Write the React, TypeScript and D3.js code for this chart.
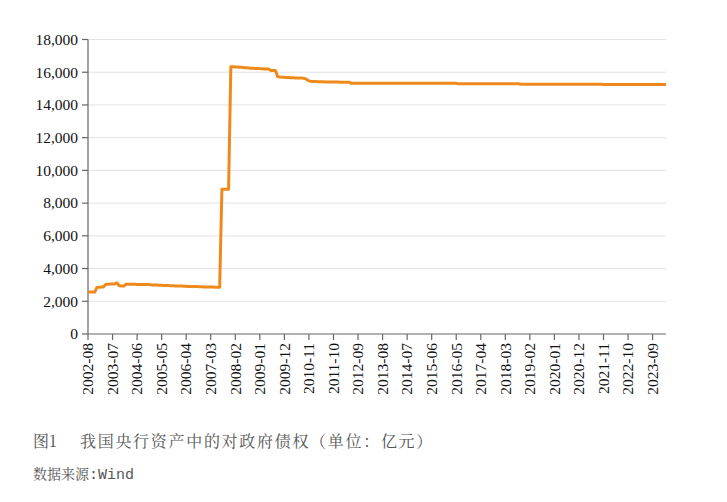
import { useMemo } from "react";
import * as d3 from "d3";

const WIDTH = 727;
const HEIGHT = 502;
const MARGIN = { top: 39.5, right: 61, bottom: 168, left: 88 };

// monthly categories, 2002-08 .. 2024-03
const START_MONTH = new Date(2002, 7, 1);
const END_MONTH = new Date(2024, 3, 1);

// 亿元
const VALUES = [
  // 2002-08 .. 2002-12
  2560, 2560, 2560, 2560, 2850,
  // 2003
  2860, 2870, 2880, 3040, 3040, 3050, 3050, 3060, 3120, 2950, 2930, 2930,
  // 2004
  3040, 3040, 3040, 3040, 3040, 3030, 3030, 3030, 3030, 3020, 3020, 3010,
  // 2005
  3000, 2990, 2990, 2980, 2980, 2970, 2970, 2960, 2950, 2950, 2940, 2940,
  // 2006
  2930, 2930, 2920, 2920, 2910, 2910, 2900, 2900, 2900, 2890, 2890, 2880,
  // 2007
  2880, 2870, 2870, 2870, 2860, 2860, 2850, 8850, 8850, 8850, 8850, 16330,
  // 2008
  16330, 16320, 16320, 16310, 16300, 16280, 16270, 16260, 16250, 16240, 16230, 16230,
  // 2009
  16220, 16210, 16200, 16200, 16200, 16100, 16100, 16100, 15730, 15710, 15700, 15690,
  // 2010
  15680, 15670, 15660, 15660, 15650, 15650, 15640, 15640, 15620, 15560, 15470, 15440,
  // 2011
  15430, 15430, 15420, 15420, 15420, 15410, 15410, 15410, 15400, 15400, 15400, 15400,
  // 2012
  15390, 15390, 15390, 15390, 15390, 15320, 15320, 15320, 15320, 15320, 15320, 15320,
  // 2013
  15320, 15320, 15320, 15320, 15320, 15320, 15320, 15320, 15320, 15320, 15320, 15320,
  // 2014
  15320, 15320, 15320, 15320, 15320, 15320, 15320, 15320, 15320, 15320, 15320, 15320,
  // 2015
  15320, 15320, 15320, 15320, 15320, 15320, 15320, 15320, 15320, 15320, 15320, 15320,
  // 2016
  15320, 15320, 15320, 15320, 15320, 15290, 15290, 15290, 15290, 15290, 15290, 15290,
  // 2017
  15290, 15290, 15290, 15290, 15290, 15290, 15290, 15290, 15290, 15290, 15290, 15290,
  // 2018
  15290, 15290, 15290, 15290, 15290, 15290, 15290, 15290, 15290, 15265, 15265, 15265,
  // 2019
  15265, 15265, 15265, 15265, 15265, 15265, 15265, 15265, 15265, 15265, 15265, 15265,
  // 2020
  15265, 15265, 15265, 15265, 15265, 15265, 15265, 15265, 15265, 15265, 15265, 15265,
  // 2021
  15265, 15265, 15265, 15265, 15265, 15265, 15265, 15265, 15265, 15265, 15245, 15245,
  // 2022
  15245, 15245, 15245, 15245, 15245, 15245, 15245, 15245, 15245, 15245, 15245, 15245,
  // 2023
  15245, 15245, 15245, 15245, 15245, 15245, 15245, 15245, 15245, 15245, 15245, 15245,
  // 2024-01 .. 2024-03
  15245, 15245, 15245,
];

const X_TICKS = [
  "2002-08", "2003-07", "2004-06", "2005-05", "2006-04", "2007-03",
  "2008-02", "2009-01", "2009-12", "2010-11", "2011-10", "2012-09",
  "2013-08", "2014-07", "2015-06", "2016-05", "2017-04", "2018-03",
  "2019-02", "2020-01", "2020-12", "2021-11", "2022-10", "2023-09",
];
const Y_TICKS = [0, 2000, 4000, 6000, 8000, 10000, 12000, 14000, 16000, 18000];

const TITLE_NO = "图1";
const TITLE = "我国央行资产中的对政府债权（单位：亿元）";
const SOURCE = "数据来源";
const SOURCE_NAME = ":Wind";

const LINE_COLOR = "#ee8a1b";
const SERIF = "Liberation Serif, Times New Roman, DejaVu Serif, serif";
const CJK = "Noto Serif CJK SC, Noto Sans CJK SC, sans-serif";
const MONO = "Liberation Mono, DejaVu Sans Mono, monospace";

export default function App() {
  const boundsWidth = WIDTH - MARGIN.left - MARGIN.right;
  const boundsHeight = HEIGHT - MARGIN.top - MARGIN.bottom;

  const months = useMemo(
    () => d3.timeMonth.range(START_MONTH, END_MONTH).map(d3.timeFormat("%Y-%m")),
    []
  );
  const data = months.map((m, i) => ({ month: m, value: VALUES[i] }));

  const xScale = d3.scalePoint().domain(months).range([0, boundsWidth]);
  const yScale = d3.scaleLinear().domain([0, 18000]).range([boundsHeight, 0]);

  const linePath = d3
    .line<{ month: string; value: number }>()
    .x((d) => xScale(d.month) ?? 0)
    .y((d) => yScale(d.value))(data);

  const fmt = d3.format(",");

  return (
    <svg
      width={WIDTH}
      height={HEIGHT}
      style={{ position: "absolute", left: 0, top: 0, background: "#fff" }}
    >
      <g transform={`translate(${MARGIN.left},${MARGIN.top})`}>
        {/* grid */}
        {Y_TICKS.slice(1).map((v) => (
          <line
            key={v}
            x1={0}
            x2={boundsWidth}
            y1={yScale(v)}
            y2={yScale(v)}
            stroke="#e3e3e3"
            strokeWidth={1}
          />
        ))}

        {/* y axis */}
        <line x1={0} x2={0} y1={0} y2={boundsHeight} stroke="#666" strokeWidth={1.2} />
        {Y_TICKS.map((v) => (
          <g key={v} transform={`translate(0,${yScale(v)})`}>
            <line x1={-6} x2={0} stroke="#666" strokeWidth={1.2} />
            <text
              x={-10}
              dy="0.34em"
              textAnchor="end"
              style={{ fontFamily: SERIF, fontSize: 15.5 }}
              fill="#111"
            >
              {fmt(v)}
            </text>
          </g>
        ))}

        {/* x axis */}
        <line
          x1={0}
          x2={boundsWidth}
          y1={boundsHeight}
          y2={boundsHeight}
          stroke="#666"
          strokeWidth={1.2}
        />
        {X_TICKS.map((m) => {
          const x = xScale(m) ?? 0;
          return (
            <g key={m} transform={`translate(${x},${boundsHeight})`}>
              <line y1={0} y2={6} stroke="#666" strokeWidth={1.2} />
              <text
                transform="translate(0,9) rotate(-90)"
                dy="0.34em"
                textAnchor="end"
                style={{ fontFamily: SERIF, fontSize: 15.5 }}
                fill="#111"
              >
                {m}
              </text>
            </g>
          );
        })}

        {/* series */}
        <path
          d={linePath ?? ""}
          fill="none"
          stroke={LINE_COLOR}
          strokeWidth={3}
          strokeLinejoin="round"
        />
      </g>

      {/* caption */}
      <text x={33} y={447} style={{ fontFamily: CJK, fontSize: 16 }} fill="#555">
        {TITLE_NO}
      </text>
      <text
        x={80}
        y={447}
        style={{ fontFamily: CJK, fontSize: 16, letterSpacing: 1.7 }}
        fill="#555"
      >
        {TITLE}
      </text>
      <text x={33} y={479} style={{ fontFamily: CJK, fontSize: 14 }} fill="#555">
        {SOURCE}
        <tspan style={{ fontFamily: MONO, fontSize: 15 }}>{SOURCE_NAME}</tspan>
      </text>
    </svg>
  );
}
